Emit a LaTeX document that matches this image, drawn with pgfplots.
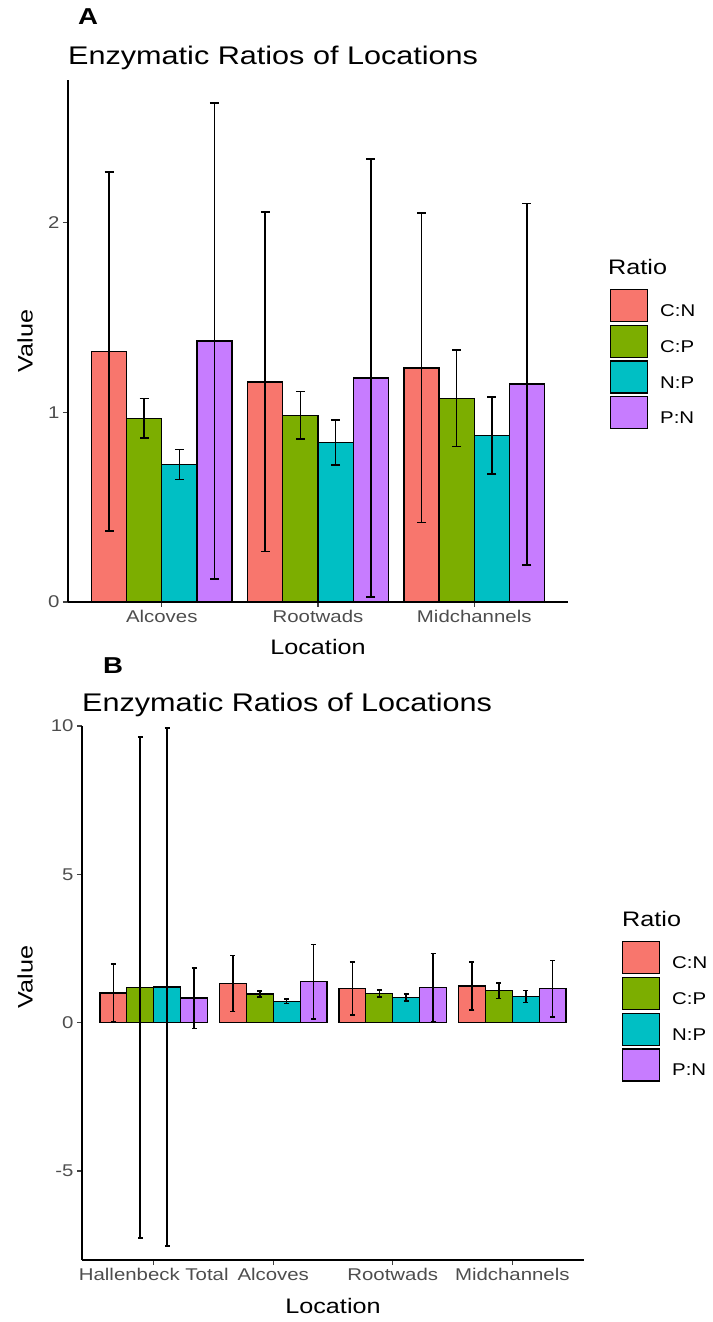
\documentclass[border=0pt]{standalone}
\usepackage{fontspec}
\setmainfont{Liberation Sans}[FakeStretch=1.2]
\usepackage{pgfplots}
\pgfplotsset{compat=1.18}
\usetikzlibrary{plotmarks}
\definecolor{cCN}{HTML}{F8766D}
\definecolor{cCP}{HTML}{7CAE00}
\definecolor{cNP}{HTML}{00BFC4}
\definecolor{cPN}{HTML}{C77CFF}
\definecolor{tickgrey}{HTML}{4D4D4D}
\pgfplotsset{
  enzy/.style={
    scale only axis,
    axis x line*=bottom, axis y line*=left,
    axis line style={line width=1.4pt, black},
    tick align=outside,
    major tick length=5pt,
    tick style={line width=1.2pt, color=black!75},
    ticklabel style={font=\fontsize{17}{20}\selectfont, text=tickgrey},
    /pgf/number format/assume math mode=true,
    label style={font=\fontsize{21}{25}\selectfont},
    ybar, bar width=0.225,
    legend image code/.code={\draw[##1, line width=1.2pt] (0pt,-10pt) rectangle (37pt,22pt);},
    legend style={draw=none, fill=none, inner sep=0pt, outer sep=0pt, anchor=north west,
      row sep=2.5pt, column sep=12pt, font=\fontsize{17}{20}\selectfont, nodes={inner sep=0pt}},
    legend cell align=left,
  },
  barA/.style={fill=#1, draw=black, line width=1.2pt, bar shift=0pt,
    error bars/.cd, y dir=both, y explicit, error mark=|,
    error bar style={line width=1.6pt, black, solid},
    error mark options={black, line width=1.6pt, mark size=4.5pt}},
  barB/.style={fill=#1, draw=black, line width=1.2pt, bar shift=0pt,
    error bars/.cd, y dir=both, y explicit, error mark=|,
    error bar style={line width=1.6pt, black, solid},
    error mark options={black, line width=1.6pt, mark size=2.5pt}},
}
\begin{document}
\begin{tikzpicture}
\path[use as bounding box] (0pt,0pt) rectangle (712pt,1322pt);
% ---------------- Panel A ----------------
\begin{axis}[enzy,
  at={(68pt,720pt)}, anchor=south west,
  width=500pt, height=522pt,
  xmin=0.4, xmax=3.6, ymin=0, ymax=2.75,
  xtick={1,2,3}, xticklabels={Alcoves,Rootwads,Midchannels},
  ytick={0,1,2},
  xlabel={Location}, ylabel={Value},
  xlabel style={at={(axis description cs:0.5,-0.1015)}, anchor=base},
  ylabel style={at={(axis description cs:-0.086,0.5)}, anchor=center},
  legend style={at={(1.084,0.5996)}},
]
\addplot[barA=cCN] table[x=x, y=y, y error=e] {
x y e
0.6625 1.320 0.945
1.6625 1.159 0.894
2.6625 1.233 0.815
};
\addlegendentry{C:N}
\addplot[barA=cCP] table[x=x, y=y, y error=e] {
x y e
0.8875 0.968 0.104
1.8875 0.984 0.124
2.8875 1.074 0.254
};
\addlegendentry{C:P}
\addplot[barA=cNP] table[x=x, y=y, y error=e] {
x y e
1.1125 0.725 0.079
2.1125 0.840 0.119
3.1125 0.878 0.203
};
\addlegendentry{N:P}
\addplot[barA=cPN] table[x=x, y=y, y error=e] {
x y e
1.3375 1.375 1.255
2.3375 1.180 1.153
3.3375 1.148 0.952
};
\addlegendentry{P:N}
\end{axis}
% ---------------- Panel B ----------------
\begin{axis}[enzy,
  at={(82pt,62pt)}, anchor=south west,
  width=502pt, height=534pt,
  xmin=0.4, xmax=4.6, ymin=-8, ymax=10,
  xtick={1,2,3,4}, xticklabels={Hallenbeck Total,Alcoves,Rootwads,Midchannels},
  ytick={-5,0,5,10},
  xlabel={Location}, ylabel={Value},
  xlabel style={at={(axis description cs:0.5,-0.1)}, anchor=base},
  ylabel style={at={(axis description cs:-0.1135,0.53)}, anchor=center},
  legend style={at={(1.0757,0.597)}},
]
\addplot[barB=cCN] table[x=x, y=y, y error=e] {
x y e
0.6625 1.000 0.975
1.6625 1.320 0.945
2.6625 1.159 0.894
3.6625 1.233 0.815
};
\addlegendentry{C:N}
\addplot[barB=cCP] table[x=x, y=y, y error=e] {
x y e
0.8875 1.190 8.445
1.8875 0.968 0.104
2.8875 0.984 0.124
3.8875 1.074 0.254
};
\addlegendentry{C:P}
\addplot[barB=cNP] table[x=x, y=y, y error=e] {
x y e
1.1125 1.200 8.730
2.1125 0.725 0.079
3.1125 0.840 0.119
4.1125 0.878 0.203
};
\addlegendentry{N:P}
\addplot[barB=cPN] table[x=x, y=y, y error=e] {
x y e
1.3375 0.830 1.020
2.3375 1.375 1.255
3.3375 1.180 1.153
4.3375 1.148 0.952
};
\addlegendentry{P:N}
\end{axis}
% ---------------- Titles ----------------
\node[anchor=base west, inner sep=0pt, font=\bfseries\fontsize{23}{27}\selectfont] at (78pt,1297pt) {A};
\node[anchor=base west, inner sep=0pt, font=\fontsize{25.5}{30}\selectfont] at (68pt,1257pt) {Enzymatic Ratios of Locations};
\node[anchor=base west, inner sep=0pt, font=\fontsize{21}{25}\selectfont] at (608pt,1047pt) {Ratio};
\node[anchor=base west, inner sep=0pt, font=\bfseries\fontsize{23}{27}\selectfont] at (103pt,648pt) {B};
\node[anchor=base west, inner sep=0pt, font=\fontsize{25.5}{30}\selectfont] at (82pt,610pt) {Enzymatic Ratios of Locations};
\node[anchor=base west, inner sep=0pt, font=\fontsize{21}{25}\selectfont] at (622pt,395pt) {Ratio};
\end{tikzpicture}
\end{document}
